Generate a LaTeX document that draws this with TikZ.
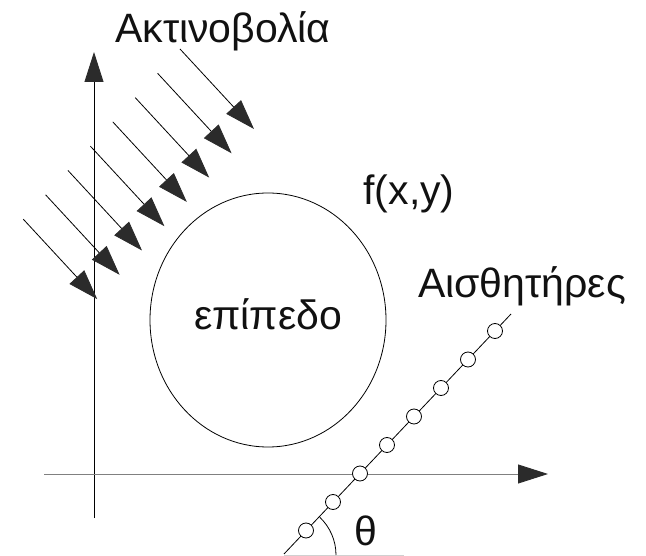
\documentclass[tikz,border=0pt]{standalone}
\usepackage{fontspec}
\setmainfont{Liberation Sans}
\usepackage{xcolor}
\usepackage{tikz}
\usetikzlibrary{arrows.meta, shapes.geometric}
\definecolor{headGray}{HTML}{2B2B2B}
\definecolor{axisGray}{HTML}{808080}
\definecolor{baseGray}{HTML}{D0D0D0}
\definecolor{inkText}{HTML}{111111}

\tikzset{
  ray/.style={line width=0.8pt, -{Triangle[length=30pt, width=20pt, color=headGray]}},
  axis/.style={line width=0.9pt, -{Triangle[length=30pt, width=19pt, color=headGray]}},
  sensor/.style={circle, draw, fill=white, line width=0.8pt, minimum size=15pt, inner sep=0pt},
  label/.style={color=inkText, font=\fontsize{41}{49}\selectfont, inner sep=0pt, anchor=base}
}

\begin{document}
\begin{tikzpicture}[x=1pt, y=1pt, line width=0.8pt]
        \useasboundingbox (0,0) rectangle (646,-556);
        % Axes
        \coordinate (yBot) at (94,-518);
        \coordinate (yTop) at (94,-52);
        \coordinate (xLeft) at (44,-474);
        \coordinate (xRight) at (548,-474);
        \draw[axis] (yBot) -- (yTop);
        \draw[axis, axisGray] (xLeft) -- (xRight);
        % Plane f(x,y)
        \node[ellipse, draw, minimum width=236pt, minimum height=254pt, inner sep=0pt] (plane) at (268,-320) {};
        \node[label] (planeText) at (268,-330) {επίπεδο};
        \node[label] (fxy) at (409,-205) {f(x,y)};
        % Radiation
        \node[label] (radText) at (223,-43) {Ακτινοβολία};
        \foreach \i in {0,...,7} {
          \coordinate (ray\i s) at (180-22.4*\i, -49-24.3*\i);
          \coordinate (ray\i t) at (254-22.4*\i, -129-24.3*\i);
          \draw[ray] (ray\i s) -- (ray\i t);
        }
        % Sensors
        \coordinate (senTop) at (511,-314);
        \coordinate (senBot) at (284,-554);
        \draw (senBot) -- (senTop);
        \foreach \k in {0,...,7}
          \node[sensor] (s\k) at (495-27*\k, -331-28.5*\k) {};
        \node[label] (senText) at (522,-298) {Αισθητήρες};
        % Angle theta
        \coordinate (thC) at (284,-555);
        \coordinate (thEnd) at (404,-555);
        \draw[baseGray] (thC) -- (thEnd);
        \draw (thC) ++(52,0) arc[start angle=0, end angle=46.5, radius=52];
        \node[label] (theta) at (366,-545) {θ};
      \end{tikzpicture}
\end{document}
